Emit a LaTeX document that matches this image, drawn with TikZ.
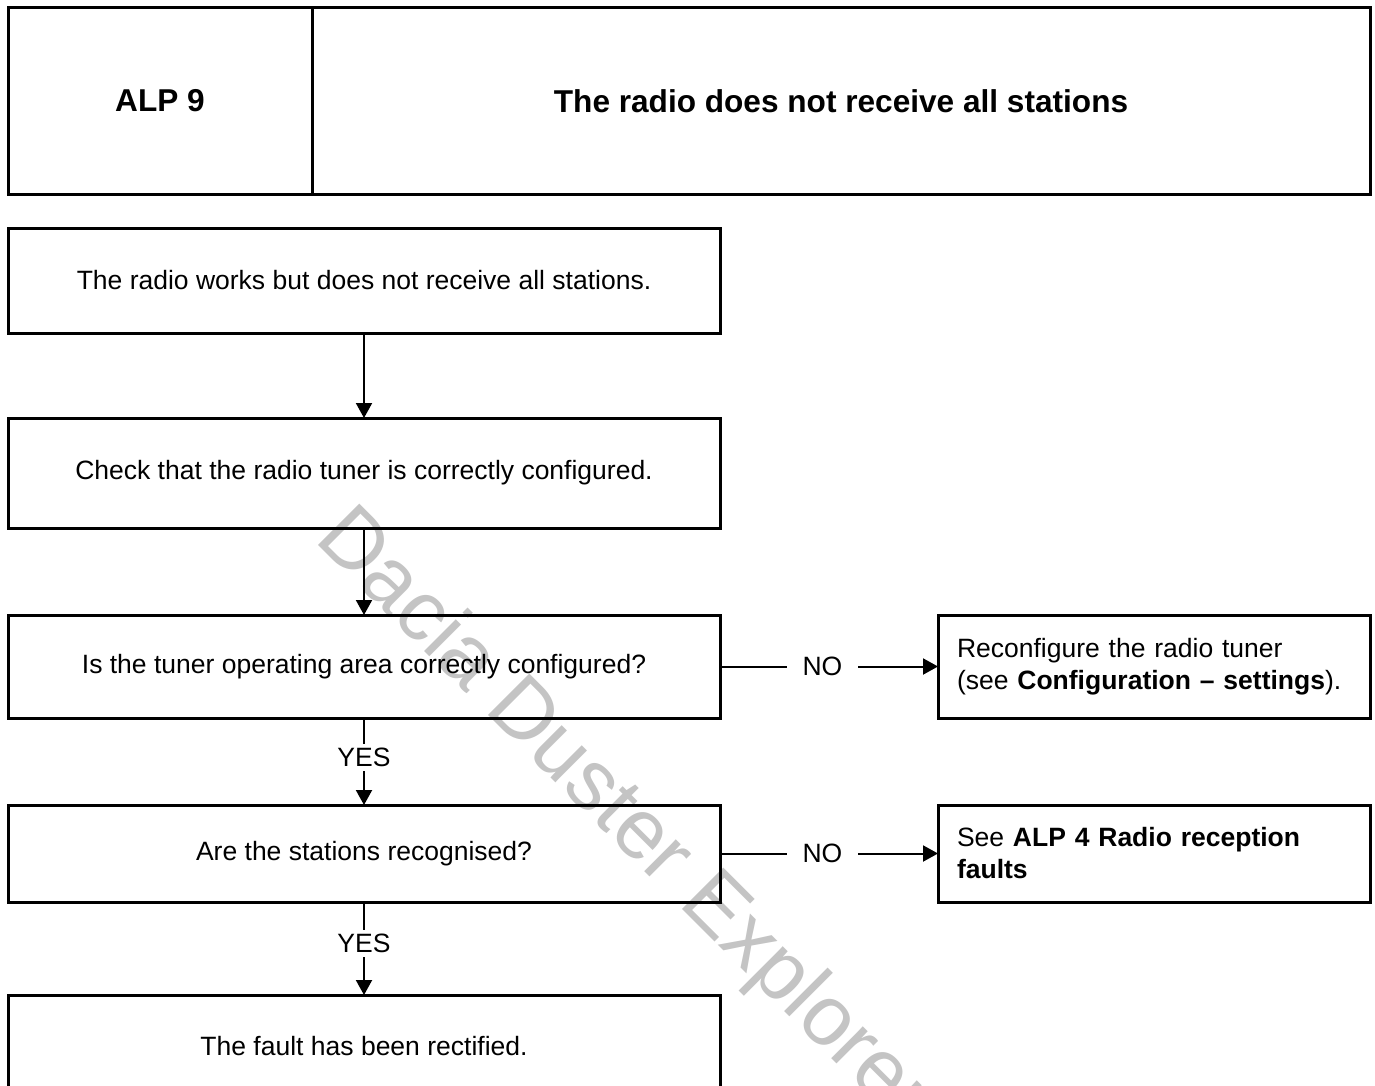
\documentclass[tikz,border=0pt]{standalone}
\usepackage{fontspec}
\setmainfont{Liberation Sans}
\usetikzlibrary{arrows.meta, positioning}
\definecolor{markgray}{RGB}{196,196,196}

\begin{document}
\begin{tikzpicture}[x=0.5pt, y=-0.5pt,
    flowbox/.style={draw, line width=1.5pt, inner sep=0pt, outer sep=0pt, minimum width=356pt, align=center, font=\fontsize{13.25}{16}\selectfont},
    sidebox/.style={draw, line width=1.5pt, outer sep=0pt, inner xsep=9.5pt, inner ysep=0pt, text width=197pt, align=left, font=\fontsize{13.25}{16}\selectfont},
    headbox/.style={draw, line width=1.5pt, outer sep=0pt, minimum height=93pt, font=\fontsize{15.8}{19}\selectfont\bfseries},
    flow/.style={line width=1pt, -{Triangle[length=7.5pt, width=8pt]}},
    answer/.style={fill=white, inner sep=2pt, font=\fontsize{13.25}{16}\selectfont}]
      \useasboundingbox (0,0) rectangle (1375,1086);
      \clip (0,0) rectangle (1375,1086);
      % watermark
      \node[anchor=base west, rotate=-45, inner sep=0pt, text=markgray, font=\fontsize{42.5}{50}\selectfont] (mark) at (313,540) {Dacia Duster Explorer};
      % header
      \node[headbox, minimum width=152pt] (code) at (160,101) {ALP 9};
      \node[headbox, minimum width=529pt] (title) at (841,101) {The radio does not receive all stations};
      % main column
      \node[flowbox, minimum height=52.5pt] (start) at (364,280.5) {The radio works but does not receive all stations.};
      \node[flowbox, minimum height=55pt] (check) at (364,473) {Check that the radio tuner is correctly configured.};
      \node[flowbox, minimum height=51.5pt] (area) at (364,666.5) {Is the tuner operating area correctly configured?};
      \node[flowbox, minimum height=48.5pt] (stations) at (364,853.5) {Are the stations recognised?};
      \node[flowbox, minimum height=51pt] (fixed) at (364,1046) {The fault has been rectified.};
      % side column
      \node[sidebox, minimum height=51.5pt] (reconf) at (1154,666.5) {Reconfigure the radio tuner\\(see \textbf{Configuration -- settings}).};
      \node[sidebox, minimum height=48.5pt] (alp4) at (1154,853.5) {See \textbf{ALP 4 Radio reception faults}};
      % connectors
      \draw[flow] (start) -- (check);
      \draw[flow] (check) -- (area);
      \draw[flow] (area) -- node[answer, pos=0.45] (yes1) {YES} (stations);
      \draw[flow] (stations) -- node[answer, pos=0.45] (yes2) {YES} (fixed);
      \draw[flow] (area) -- node[answer, inner xsep=8pt, pos=0.47] (no1) {NO} (reconf);
      \draw[flow] (stations) -- node[answer, inner xsep=8pt, pos=0.47] (no2) {NO} (alp4);
    \end{tikzpicture}
\end{document}
